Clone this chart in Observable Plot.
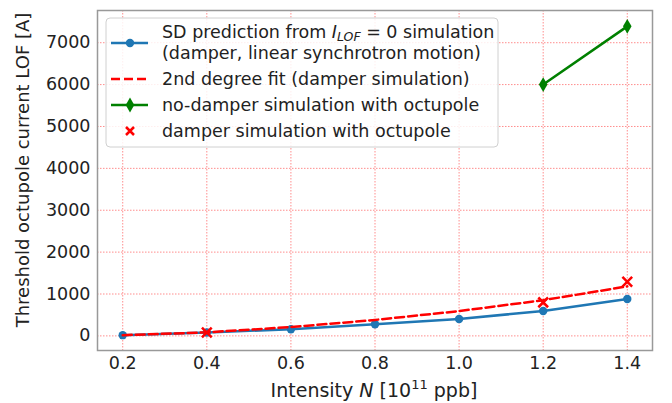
<!DOCTYPE html>
<html>
<head>
<meta charset="utf-8">
<script src="https://cdn.jsdelivr.net/npm/d3@7"></script>
<script src="https://cdn.jsdelivr.net/npm/@observablehq/plot@0.6"></script>
<style>
  html, body { margin: 0; padding: 0; background: #fff; }
  svg { font-family: "DejaVu Sans", sans-serif; }
</style>
</head>
<body>
<div id="chart"></div>
<script>
// ---- data ----
const intensity = [0.2, 0.4, 0.6, 0.8, 1.0, 1.2, 1.4];
const sdPrediction = [17, 80, 160, 277, 404, 595, 880];
const fitValues = [17, 84, 210, 380, 592, 852, 1182];
const noDamperIntensity = [1.2, 1.4];
const noDamperValues = [6000, 7390];
const damperIntensity = [0.4, 1.2, 1.4];
const damperValues = [80, 800, 1290];
const xTicks = [0.2, 0.4, 0.6, 0.8, 1.0, 1.2, 1.4];
const yTicks = [0, 1000, 2000, 3000, 4000, 5000, 6000, 7000];

const blue = "#1f77b4", red = "#ff0000", green = "#008000";
const FS = 17.5;

const sd = intensity.map((x, i) => ({x, y: sdPrediction[i]}));
const fit = intensity.map((x, i) => ({x, y: fitValues[i]}));
const nod = noDamperIntensity.map((x, i) => ({x, y: noDamperValues[i]}));
const dmp = damperIntensity.map((x, i) => ({x, y: damperValues[i]}));

const plot = Plot.plot({
  width: 672,
  height: 403,
  marginLeft: 97,
  marginRight: 20,
  marginTop: 10,
  marginBottom: 53,
  style: {fontFamily: "DejaVu Sans, sans-serif", fontSize: FS + "px", color: "#222", background: "#fff"},
  x: {domain: [0.14, 1.46], label: null},
  y: {domain: [-349, 7769], label: null},
  marks: [
    Plot.gridX(xTicks, {stroke: red, strokeOpacity: 0.45, strokeDasharray: "1.5,1.5", strokeWidth: 1}),
    Plot.gridY(yTicks, {stroke: red, strokeOpacity: 0.45, strokeDasharray: "1.5,1.5", strokeWidth: 1}),
    Plot.axisX(xTicks, {tickSize: 0, tickPadding: 6, tickFormat: d3.format(".1f"), fontSize: FS, label: null}),
    Plot.axisY(yTicks, {tickSize: 0, tickPadding: 7, tickFormat: d => String(d), fontSize: FS, label: null}),
    Plot.line(sd, {x: "x", y: "y", stroke: blue, strokeWidth: 2.5}),
    Plot.dot(sd, {x: "x", y: "y", fill: blue, r: 4.2}),
    Plot.line(fit, {x: "x", y: "y", stroke: red, strokeWidth: 2.5, strokeDasharray: "9,4"}),
    Plot.line(nod, {x: "x", y: "y", stroke: green, strokeWidth: 2.5}),
    Plot.dot(nod, {x: "x", y: "y", symbol: "diamond", fill: green, r: 4.5}),
    Plot.dot(dmp, {x: "x", y: "y", symbol: "times", stroke: red, strokeWidth: 2.5, r: 4.5}),
    Plot.frame({stroke: "#999", strokeWidth: 1.5})
  ]
});
document.getElementById("chart").appendChild(plot);

const svg = d3.select(plot);

// axis labels
const xl = svg.append("text")
  .attr("x", 374).attr("y", 397)
  .attr("text-anchor", "middle")
  .attr("font-size", 19).attr("fill", "#222");
xl.append("tspan").text("Intensity ");
xl.append("tspan").attr("font-style", "italic").text("N");
xl.append("tspan").text(" [10");
xl.append("tspan").attr("font-size", 13).attr("dy", -8).text("11");
xl.append("tspan").attr("dy", 8).text(" ppb]");

svg.append("text")
  .attr("transform", "translate(29,170) rotate(-90)")
  .attr("text-anchor", "middle")
  .attr("font-size", 18).attr("fill", "#222")
  .text("Threshold octupole current LOF [A]");

// legend
const lg = svg.append("g").attr("text-anchor", "start");
lg.append("rect")
  .attr("x", 106).attr("y", 18).attr("width", 392).attr("height", 129)
  .attr("rx", 4).attr("fill", "#fff").attr("fill-opacity", 0.85)
  .attr("stroke", "#d0d0d0").attr("stroke-width", 1);

const hx0 = 111, hx1 = 148, hxm = 130, tx = 162;
function label(y) {
  return lg.append("text").attr("x", tx).attr("y", y).attr("font-size", FS)
    .attr("fill", "#222").attr("text-anchor", "start");
}
// entry 1
lg.append("line").attr("x1", hx0).attr("x2", hx1).attr("y1", 43).attr("y2", 43)
  .attr("stroke", blue).attr("stroke-width", 2.5);
lg.append("circle").attr("cx", hxm).attr("cy", 43).attr("r", 4.2).attr("fill", blue);
const t1 = label(38);
t1.append("tspan").text("SD prediction from ");
t1.append("tspan").attr("font-style", "italic").text("I");
t1.append("tspan").attr("font-style", "italic").attr("font-size", 12.5).attr("dy", 3).text("LOF");
t1.append("tspan").attr("dy", -3).text(" = 0 simulation");
label(59).text("(damper, linear synchrotron motion)");
// entry 2
lg.append("line").attr("x1", hx0).attr("x2", hx1).attr("y1", 79).attr("y2", 79)
  .attr("stroke", red).attr("stroke-width", 2.5).attr("stroke-dasharray", "9,4");
label(85).text("2nd degree fit (damper simulation)");
// entry 3
lg.append("line").attr("x1", hx0).attr("x2", hx1).attr("y1", 105).attr("y2", 105)
  .attr("stroke", green).attr("stroke-width", 2.5);
lg.append("path").attr("d", d3.symbol(d3.symbolDiamond, 64)()).attr("transform", `translate(${hxm},105)`)
  .attr("fill", green);
label(111).text("no-damper simulation with octupole");
// entry 4
lg.append("path").attr("d", "M-4,-4L4,4M-4,4L4,-4").attr("transform", `translate(${hxm},131)`)
  .attr("stroke", red).attr("stroke-width", 2.5).attr("fill", "none");
label(137).text("damper simulation with octupole");
</script>
</body>
</html>
